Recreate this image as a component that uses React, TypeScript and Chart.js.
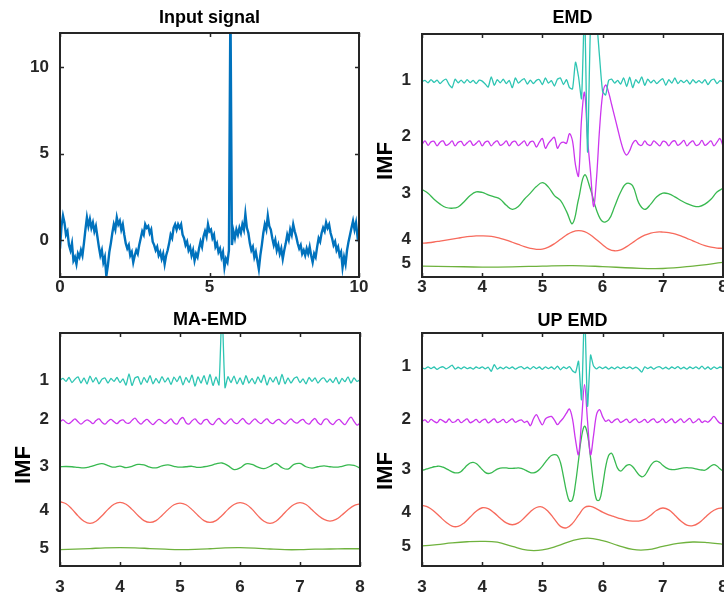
import React, { useEffect, useRef } from "react";
import { Chart, registerables } from "chart.js";
Chart.register(...registerables);

const FONT = '"Liberation Sans", Arial, Helvetica, sans-serif';

// ---------------- Input signal (t = 0 .. 10, step 0.05) ----------------
const inputT0 = 0;
const inputT1 = 10;
const inputValues = [
  -0.5, 0.8, 1.4, 1.0, 0.3, 0.5, -0.3, -0.6, -0.2, -1.2,
  -1.0, -1.4, -0.8, -1.0, -0.6, -0.9, -0.2, 0.6, 1.3, 0.8,
  1.2, 0.7, 1.0, 0.5, 0.8, 0.2, -0.4, -0.9, -0.6, -1.3,
  -1.0, -2.1, -1.5, -0.7, -0.2, 0.4, 0.9, 0.6, 1.3, 0.9,
  1.1, 0.6, 0.9, 0.3, -0.2, -0.5, -0.3, -0.9, -0.7, -1.3,
  -0.9, -0.6, -0.8, -0.3, 0.1, 0.5, 0.3, 0.9, 0.7, 0.8,
  0.4, 0.6, -0.1, -0.3, -0.6, -0.4, -0.9, -0.7, -1.1, -0.8,
  -1.4, -0.9, -0.6, -0.2, 0.3, 0.1, 0.7, 0.9, 0.6, 0.9,
  0.7, 0.9, 0.3, 0.1, -0.3, -0.1, -0.6, -0.4, -0.9, -0.6,
  -1.2, -0.8, -1.0, -0.5, -0.1, -0.4, 0.2, 0.5, 0.2, 0.9,
  0.5, 0.6, 0.1, 0.3, -0.4, -0.2, -0.7, -0.5, -1.0, -0.7,
  -1.6, -1.1, -1.3, -0.6, 14, -0.3, 0.5, 0.1, 0.6, 0.3,
  0.7, 0.4, 0.9, 0.6, 1.5, 0.7, 0.4, -0.2, -0.6, -0.4,
  -1.0, -0.7, -1.2, -1.7, -0.9, -0.3, 0.4, 0.9, 0.6, 1.4,
  0.8, 0.6, 0.1, -0.3, 0.0, -0.6, -0.3, -0.8, -0.5, -1.1,
  -0.6, -0.2, 0.3, 0.0, 0.6, 0.3, 0.9, 0.5, 0.2, -0.2,
  -0.5, -0.3, -0.8, -0.6, -0.9, -0.5, -0.8, -0.4, -0.9, -1.3,
  -0.8, -1.0, -0.4, 0.1, -0.1, 0.4, 0.7, 0.5, 1.0, 0.7,
  0.9, 0.4, 0.1, -0.3, -0.1, -0.6, -0.4, -0.9, -0.7, -1.6,
  -1.0, -1.4, -0.6, -0.1, 0.3, 0.7, 1.1, 0.6, 1.0, 0.2,
  0.5,
];
const inputXTicks = [0, 5, 10];
const inputYTicks = [0, 5, 10];

// ---------------- IMF panels (t = 3 .. 8) ----------------
const imfT0 = 3;
const imfT1 = 8;
const imfXTicks = [3, 4, 5, 6, 7, 8];
const imfLabels = ["1", "2", "3", "4", "5"];

// EMD
const emdOffsets = [8.04, 5.5, 3.3, 1.45, 0.42];
const emdTickPos = [8.1, 5.78, 3.44, 1.55, 0.56];
const emdImf1 = [
  0.00, 0.05, -0.05, 0.08, -0.03, 0.06, -0.08, 0.04, 0.10, -0.12,
  -0.25, 0.10, -0.05, 0.06, -0.06, 0.08, -0.04, 0.05, -0.08, 0.06,
  0.02, -0.10, -0.22, 0.20, -0.15, 0.08, -0.05, 0.10, -0.08, 0.05,
  -0.25, 0.15, -0.06, 0.05, 0.12, -0.10, 0.06, -0.08, 0.05, 0.08,
  -0.12, 0.15, -0.06, 0.04, -0.18, 0.10, 0.15, -0.12, 0.08, -0.25,
  -0.30, 0.80, 0.20, -0.70, 3.00, -2.90, 2.40, 3.20, 2.50, 1.00,
  -0.40, -0.55, 0.05, 0.10, -0.06, 0.05, -0.10, 0.15, -0.20, 0.18,
  -0.25, 0.08, -0.06, 0.20, -0.15, 0.10, -0.05, 0.06, -0.08, 0.04,
  0.12, -0.15, 0.08, -0.06, 0.15, -0.08, 0.05, -0.04, 0.06, -0.10,
  0.08, -0.05, 0.04, -0.06, 0.08, -0.12, 0.05, 0.10, -0.08, 0.04,
  -0.02,
];
const emdImf2 = [
  -0.05, 0.10, -0.08, 0.06, 0.08, -0.10, 0.05, 0.10, -0.08, -0.02,
  0.10, -0.10, 0.04, 0.08, -0.09, 0.02, 0.10, -0.08, 0.00, 0.10,
  -0.10, 0.05, 0.08, -0.10, 0.03, 0.10, -0.08, -0.02, 0.10, -0.10,
  0.05, 0.08, -0.09, 0.00, 0.10, -0.10, 0.06, 0.08, -0.15, 0.05,
  0.20, -0.20, 0.00, 0.15, 0.25, -0.20, 0.00, 0.05, 0.00, 0.40,
  0.10, -0.90, -1.35, 1.00, 2.10, 0.20, -1.20, -2.60, -1.40, 0.60,
  2.00, 2.40, 2.10, 1.60, 1.10, 0.60, 0.10, -0.30, -0.48, -0.30,
  0.00, 0.12, -0.05, -0.08, 0.10, -0.05, -0.08, 0.10, 0.00, -0.10,
  0.08, 0.05, -0.10, 0.06, 0.10, -0.08, 0.00, 0.12, -0.10, 0.02,
  0.10, -0.08, -0.05, 0.12, -0.08, 0.00, 0.10, -0.10, 0.05, 0.20,
  -0.12,
];
const emdImf3 = [
  0.30, 0.15, -0.10, -0.30, -0.44, -0.47, -0.42, -0.20, 0.05, 0.20,
  0.18, 0.08, 0.00, -0.10, -0.35, -0.52, -0.40, -0.10, 0.15, 0.42,
  0.58, 0.40, 0.05, -0.15, -0.60, -1.10, -0.10, 0.90, 0.30, -0.55,
  -1.02, -0.95, -0.40, 0.20, 0.55, 0.45, -0.25, -0.52, -0.30, 0.00,
  0.15, 0.12, 0.00, -0.15, -0.28, -0.37, -0.40, -0.30, -0.10, 0.20,
  0.35,
];
const emdImf4 = [
  -0.06, -0.04, -0.01, 0.03, 0.07, 0.11, 0.15, 0.19, 0.22, 0.24,
  0.24, 0.23, 0.20, 0.14, 0.07, -0.02, -0.11, -0.20, -0.27, -0.31,
  -0.30, -0.22, -0.08, 0.10, 0.28, 0.41, 0.46, 0.42, 0.28, 0.08,
  -0.12, -0.30, -0.37, -0.33, -0.20, -0.03, 0.14, 0.27, 0.36, 0.40,
  0.40, 0.38, 0.32, 0.24, 0.14, 0.04, -0.07, -0.16, -0.22, -0.26,
  -0.27,
];
const emdImf5 = [0.03, 0.01, -0.01, 0.0, 0.03, 0.05, 0.01, -0.05, -0.07, 0.03, 0.18];

// MA-EMD
const maOffsets = [7.97, 6.19, 4.26, 2.3, 0.73];
const maTickPos = [7.97, 6.3, 4.26, 2.37, 0.76];
const maImf1 = [
  0.00, 0.08, -0.05, 0.12, -0.10, 0.05, 0.15, -0.12, 0.10, -0.15,
  0.18, -0.08, 0.12, -0.15, 0.05, 0.10, -0.12, 0.08, -0.05, 0.12,
  -0.10, 0.06, -0.20, 0.28, -0.22, 0.10, 0.15, -0.18, 0.12, -0.10,
  0.20, -0.15, 0.08, -0.12, 0.16, -0.08, 0.10, -0.18, 0.14, -0.06,
  0.18, -0.20, 0.12, -0.10, 0.22, -0.25, 0.15, -0.12, 0.20, -0.18,
  0.25, -0.22, 0.15, -0.20, 3.00, -0.32, 0.15, -0.10, 0.18, -0.15,
  0.10, -0.18, 0.20, -0.12, 0.08, -0.15, 0.15, -0.10, 0.22, -0.20,
  0.12, -0.08, 0.15, -0.18, 0.25, -0.15, 0.10, -0.12, 0.08, 0.14,
  -0.10, 0.06, -0.15, 0.12, -0.05, 0.10, -0.12, 0.05, 0.10, -0.08,
  0.06, -0.10, 0.12, -0.15, 0.08, -0.06, 0.15, -0.12, 0.10, -0.05,
  0.02,
];
const maImf2 = [
  0.00, 0.08, -0.02, -0.08, 0.02, 0.12, 0.00, -0.10, 0.00, 0.08,
  0.02, -0.08, 0.05, 0.12, -0.02, -0.10, 0.02, 0.10, 0.00, -0.08,
  0.04, 0.08, -0.04, -0.06, 0.06, 0.16, 0.00, -0.10, 0.02, 0.10,
  -0.02, -0.12, 0.00, 0.10, 0.02, -0.08, 0.02, 0.12, -0.04, -0.10,
  0.10, 0.18, -0.04, -0.10, 0.04, 0.12, -0.02, -0.10, 0.06, 0.10,
  -0.06, -0.12, 0.04, 0.14, 0.00, -0.10, 0.02, 0.12, -0.02, -0.08,
  0.04, 0.14, -0.02, -0.10, 0.02, 0.12, 0.00, -0.08, 0.04, 0.12,
  -0.02, -0.08, 0.04, 0.10, -0.02, -0.10, 0.02, 0.12, 0.00, -0.06,
  0.04, 0.10, -0.04, -0.10, 0.04, 0.14, -0.04, -0.12, 0.08, 0.12,
  -0.04, -0.12, 0.02, 0.10, -0.02, -0.12, 0.06, 0.20, 0.02, -0.14,
  -0.06,
];
const maImf3 = [
  0.00, 0.01, 0.00, -0.03, -0.05, 0.00, 0.08, 0.13, 0.05, -0.02,
  0.03, -0.04, 0.02, 0.10, 0.08, -0.02, -0.05, 0.04, 0.08, 0.02,
  -0.02, 0.00, 0.02, -0.03, 0.00, 0.05, 0.12, 0.16, 0.05, -0.12,
  -0.05, 0.12, 0.10, -0.02, -0.08, 0.02, 0.14, -0.04, -0.10, 0.10,
  0.14, 0.00, -0.06, 0.00, 0.04, 0.00, -0.02, 0.02, 0.08, 0.06,
  -0.06,
];
const maImf4 = [
  0.46, 0.37, 0.14, -0.15, -0.38, -0.47, -0.38, -0.14, 0.13, 0.35,
  0.43, 0.35, 0.13, -0.13, -0.35, -0.43, -0.35, -0.13, 0.12, 0.33,
  0.40, 0.33, 0.12, -0.13, -0.35, -0.43, -0.35, -0.13, 0.13, 0.34,
  0.42, 0.35, 0.14, -0.15, -0.38, -0.47, -0.38, -0.14, 0.13, 0.34,
  0.42, 0.34, 0.11, -0.12, -0.30, -0.37, -0.30, -0.11, 0.11, 0.29,
  0.37,
];
const maImf5 = [
  -0.03, -0.01, 0.02, 0.05, 0.06, 0.05, 0.02, -0.01, -0.03, -0.02,
  0.01, 0.05, 0.06, 0.04, 0.00, -0.03, -0.03, -0.01, 0.00, 0.01,
  0.01,
];

// UP EMD
const upOffsets = [8.5, 6.21, 4.14, 2.13, 0.89];
const upTickPos = [8.57, 6.29, 4.14, 2.31, 0.86];
const upImf1 = [
  0.00, -0.04, 0.05, -0.03, 0.04, -0.06, 0.02, 0.05, -0.04, 0.03,
  0.12, -0.05, 0.03, -0.04, 0.05, -0.03, 0.02, -0.05, 0.04, -0.02,
  0.05, -0.04, 0.03, -0.15, 0.14, -0.05, 0.03, -0.04, 0.05, -0.03,
  0.04, -0.05, 0.02, 0.06, -0.04, 0.03, -0.05, 0.06, -0.03, 0.04,
  -0.06, 0.05, -0.03, 0.04, -0.05, 0.08, -0.08, 0.04, -0.03, 0.06,
  -0.12, -0.20, 0.29, -1.36, 2.50, -1.64, 0.55, 0.08, -0.04, 0.05,
  -0.03, 0.04, -0.05, 0.03, -0.04, 0.05, -0.03, 0.04, -0.02, 0.05,
  -0.04, 0.03, -0.04, -0.18, 0.05, -0.03, 0.04, -0.05, 0.03, 0.05,
  -0.04, 0.03, -0.05, 0.04, -0.03, 0.06, -0.04, 0.03, -0.05, 0.04,
  -0.03, 0.05, -0.04, 0.08, -0.05, 0.04, -0.06, 0.05, -0.03, 0.04,
  -0.02,
];
const upImf2 = [
  0.00, 0.06, -0.05, 0.08, 0.00, -0.06, 0.08, 0.02, -0.05, 0.10,
  -0.04, -0.02, 0.08, -0.06, 0.03, 0.10, -0.06, 0.00, 0.08, -0.05,
  0.04, 0.09, -0.07, 0.02, 0.10, -0.05, 0.00, 0.08, -0.06, 0.03,
  0.10, -0.04, 0.02, 0.06, -0.05, 0.00, -0.19, 0.10, 0.29, 0.05,
  -0.15, 0.10, 0.18, 0.21, 0.05, -0.14, 0.00, 0.15, 0.35, 0.53,
  0.10, -0.80, -1.43, 0.00, 1.57, 0.00, -1.43, -0.60, 0.30, 0.50,
  0.20, 0.00, 0.06, -0.06, 0.05, 0.10, -0.05, 0.02, 0.09, -0.06,
  0.04, 0.10, -0.05, 0.00, 0.08, -0.06, 0.05, 0.10, -0.05, 0.00,
  0.10, -0.06, 0.03, 0.10, -0.06, 0.02, 0.10, -0.05, 0.04, 0.12,
  -0.06, 0.00, 0.10, -0.05, 0.02, -0.04, 0.08, 0.21, 0.05, -0.08,
  -0.10,
];
const upImf3 = [
  -0.03, 0.00, 0.04, 0.08, 0.12, 0.14, 0.14, 0.10, 0.04, -0.03,
  -0.10, -0.14, -0.14, -0.08, 0.05, 0.18, 0.28, 0.31, 0.26, 0.14,
  0.00, -0.12, -0.17, -0.14, -0.06, 0.02, 0.06, 0.07, 0.07, 0.05,
  0.05, 0.06, 0.07, 0.05, 0.00, -0.07, -0.13, -0.14, -0.10, 0.00,
  0.15, 0.32, 0.48, 0.60, 0.64, 0.60, 0.30, -0.30, -0.95, -1.35,
  -1.30, -0.60, 0.40, 1.40, 1.86, 1.50, 0.50, -0.60, -1.30, -1.30,
  -0.70, 0.10, 0.60, 0.70, 0.40, 0.05, -0.07, 0.05, 0.18, 0.21,
  0.12, -0.05, -0.22, -0.31, -0.25, -0.05, 0.18, 0.32, 0.36, 0.30,
  0.18, 0.08, 0.02, 0.00, 0.00, 0.02, 0.05, 0.07, 0.08, 0.07,
  0.06, 0.03, 0.00, -0.02, -0.03, 0.05, 0.15, 0.21, 0.15, 0.03,
  -0.07,
];
const upImf4 = [
  0.47, 0.40, 0.22, -0.02, -0.25, -0.42, -0.43, -0.28, -0.03, 0.22,
  0.37, 0.33, 0.15, -0.08, -0.28, -0.36, -0.28, -0.06, 0.20, 0.38,
  0.40, 0.20, -0.12, -0.43, -0.49, -0.30, 0.05, 0.38, 0.43, 0.32,
  0.18, 0.06, -0.02, -0.10, -0.17, -0.20, -0.20, -0.13, 0.05, 0.26,
  0.36, 0.28, 0.05, -0.20, -0.38, -0.40, -0.28, -0.05, 0.18, 0.32,
  0.37,
];
const upImf5 = [
  -0.03, 0.03, 0.10, 0.15, 0.17, 0.13, -0.05, -0.21, -0.20, -0.03,
  0.20, 0.31, 0.20, 0.00, -0.18, -0.19, -0.05, 0.08, 0.14, 0.11,
  0.04,
];

// ---------------- styles ----------------
const imfColors = ["#2ec5b3", "#cc36ee", "#38b950", "#f76a5c", "#6fb23e"];
const imfTension = [0.2, 0.35, 0.4, 0.4, 0.4];
const tickColor = "#262626";

function seriesPoints(vals: number[], t0: number, t1: number, offset = 0) {
  return vals.map((v, i) => ({ x: t0 + (i * (t1 - t0)) / (vals.length - 1), y: offset + v }));
}

const framePlugin = {
  id: "frame",
  afterDraw(chart: any, _args: any, opts: any) {
    const { ctx, chartArea: a, scales } = chart;
    ctx.save();
    ctx.strokeStyle = tickColor;
    ctx.lineWidth = 1.5;
    const tl = 4;
    ctx.beginPath();
    for (const t of scales.x.ticks) {
      const px = Math.round(scales.x.getPixelForValue(t.value)) + 0.5;
      ctx.moveTo(px, a.bottom);
      ctx.lineTo(px, a.bottom - tl);
      ctx.moveTo(px, a.top);
      ctx.lineTo(px, a.top + tl);
    }
    if (opts.yTicks) {
      for (const t of scales.y.ticks) {
        const py = Math.round(scales.y.getPixelForValue(t.value)) + 0.5;
        ctx.moveTo(a.left, py);
        ctx.lineTo(a.left + tl, py);
        ctx.moveTo(a.right, py);
        ctx.lineTo(a.right - tl, py);
      }
    }
    ctx.stroke();
    ctx.lineWidth = 2;
    ctx.strokeRect(a.left, a.top, a.right - a.left, a.bottom - a.top);
    if (opts.yLabel) {
      ctx.translate(opts.yLabelX, opts.yLabelY);
      ctx.rotate(-Math.PI / 2);
      ctx.font = `bold 22px ${FONT}`;
      ctx.fillStyle = "#000";
      ctx.textAlign = "center";
      ctx.textBaseline = "middle";
      ctx.fillText(opts.yLabel, 0, 0);
    }
    ctx.restore();
  },
};

type PanelSpec = {
  title: string;
  titlePad: [number, number];
  datasets: any[];
  xMin: number;
  xMax: number;
  xTicks: number[];
  yMin: number;
  yMax: number;
  yTicks: number[];
  yTickLabel: (v: number) => string;
  xAxisH: number;
  xLabelPad: number;
  padRight: number;
  yLabel?: string;
  yLabelY?: number;
  yTickMarks: boolean;
};

function zeroPad(s: any) {
  s.paddingLeft = 0;
  s.paddingRight = 0;
  s.paddingTop = 0;
  s.paddingBottom = 0;
}

function makeConfig(p: PanelSpec): any {
  const tickFont = { family: FONT, size: 17, weight: "bold" as const };
  return {
    type: "line",
    data: { datasets: p.datasets },
    plugins: [framePlugin],
    options: {
      animation: false,
      responsive: false,
      events: [],
      layout: { padding: { left: 0, top: 0, right: p.padRight, bottom: 0 } },
      plugins: {
        legend: { display: false },
        tooltip: { enabled: false },
        title: {
          display: true,
          text: p.title,
          fullSize: false,
          color: "#000",
          font: { family: FONT, size: 18, weight: "bold" },
          padding: { top: p.titlePad[0], bottom: p.titlePad[1] },
        },
        frame: { yLabel: p.yLabel, yLabelX: 23.5, yLabelY: p.yLabelY, yTicks: p.yTickMarks },
      },
      scales: {
        x: {
          type: "linear",
          min: p.xMin,
          max: p.xMax,
          afterBuildTicks: (s: any) => {
            s.ticks = p.xTicks.map((v) => ({ value: v }));
          },
          afterFit: (s: any) => {
            s.height = p.xAxisH;
            zeroPad(s);
          },
          grid: { display: false, drawTicks: false },
          border: { display: false },
          ticks: {
            font: tickFont,
            color: tickColor,
            padding: p.xLabelPad,
            maxRotation: 0,
            autoSkip: false,
            callback: (v: any) => String(v),
          },
        },
        y: {
          type: "linear",
          min: p.yMin,
          max: p.yMax,
          afterBuildTicks: (s: any) => {
            s.ticks = [...p.yTicks].sort((a, b) => a - b).map((v) => ({ value: v }));
          },
          afterFit: (s: any) => {
            s.width = 60;
            zeroPad(s);
          },
          grid: { display: false, drawTicks: false },
          border: { display: false },
          ticks: {
            font: tickFont,
            color: tickColor,
            padding: 11,
            autoSkip: false,
            callback: (v: any) => p.yTickLabel(Number(v)),
          },
        },
      },
    },
  };
}

function inputConfig() {
  return makeConfig({
    title: "Input signal",
    titlePad: [7.2, 4.2],
    datasets: [
      {
        data: seriesPoints(inputValues, inputT0, inputT1),
        borderColor: "#0072BD",
        borderWidth: 2.4,
        pointRadius: 0,
        tension: 0,
        fill: false,
      },
    ],
    xMin: 0,
    xMax: 10,
    xTicks: inputXTicks,
    yMin: -2.15,
    yMax: 12,
    yTicks: inputYTicks,
    yTickLabel: (v) => String(v),
    xAxisH: 23,
    xLabelPad: 0,
    padRight: 21,
    yTickMarks: true,
  });
}

function imfConfig(
  title: string,
  series: number[][],
  offsets: number[],
  tickPos: number[],
  titlePad: [number, number],
  xAxisH: number,
  xLabelPad: number,
  yLabelY: number
) {
  const datasets = series.map((vals, k) => ({
    data: seriesPoints(vals, imfT0, imfT1, offsets[k]),
    borderColor: imfColors[k],
    borderWidth: 1.3,
    pointRadius: 0,
    tension: imfTension[k],
    fill: false,
  }));
  return makeConfig({
    title,
    titlePad,
    datasets,
    xMin: imfT0,
    xMax: imfT1,
    xTicks: imfXTicks,
    yMin: 0,
    yMax: 10,
    yTicks: tickPos,
    yTickLabel: (v) => {
      const i = tickPos.indexOf(v);
      return i >= 0 ? imfLabels[i] : "";
    },
    xAxisH,
    xLabelPad,
    padRight: 39,
    yLabel: "IMF",
    yLabelY,
    yTickMarks: false,
  });
}

function emdConfig() {
  return imfConfig("EMD", [emdImf1, emdImf2, emdImf3, emdImf4, emdImf5], emdOffsets, emdTickPos, [7.2, 5.2], 23, 0, 161);
}
function maConfig() {
  const c = imfConfig("MA-EMD", [maImf1, maImf2, maImf3, maImf4, maImf5], maOffsets, maTickPos, [9.2, 2.2], 34, 11, 165);
  c.options.layout.padding.right = 20;
  return c;
}
function upConfig() {
  return imfConfig("UP EMD", [upImf1, upImf2, upImf3, upImf4, upImf5], upOffsets, upTickPos, [10.2, 1.2], 34, 11, 171);
}

function ChartPanel(props: { build: () => any; left: number; top: number; width: number; height: number }) {
  const ref = useRef<HTMLCanvasElement>(null);
  useEffect(() => {
    const chart = new Chart(ref.current as HTMLCanvasElement, props.build());
    return () => chart.destroy();
  }, []);
  return (
    <canvas
      ref={ref}
      width={props.width}
      height={props.height}
      style={{ position: "absolute", left: props.left, top: props.top, width: props.width, height: props.height }}
    />
  );
}

export default function App() {
  return (
    <div
      style={{
        position: "absolute",
        left: 0,
        top: 0,
        width: 724,
        height: 600,
        overflow: "hidden",
        background: "#fff",
      }}
    >
      <ChartPanel build={inputConfig} left={0} top={0} width={380} height={300} />
      <ChartPanel build={emdConfig} left={362} top={0} width={400} height={300} />
      <ChartPanel build={maConfig} left={0} top={300} width={380} height={300} />
      <ChartPanel build={upConfig} left={362} top={300} width={400} height={300} />
    </div>
  );
}
